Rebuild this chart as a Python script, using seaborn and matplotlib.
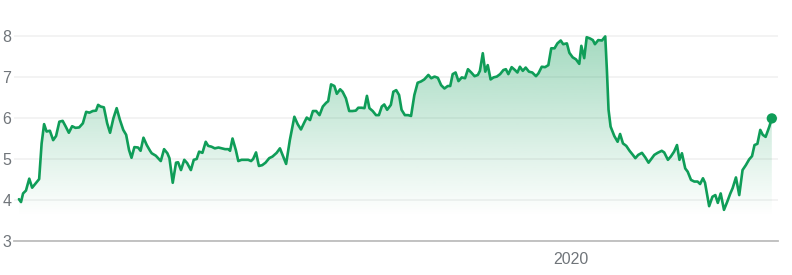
import numpy as np
import pandas as pd
import matplotlib
matplotlib.use("Agg")
import matplotlib.pyplot as plt
import matplotlib.dates as mdates
import seaborn as sns

# ---------------- data ----------------
START = "2016-05-03"
day_offsets = [
    0, 5, 10, 17, 25, 32, 41, 49, 55, 61, 67, 75, 83, 90, 98, 106, 113, 121, 129, 137,
    146, 155, 163, 171, 179, 187, 192, 198, 206, 214, 221, 229, 237, 245, 253, 260, 267, 273, 280, 289,
    295, 302, 310, 318, 322, 332, 344, 352, 360, 365, 373, 381, 386, 393, 401, 408, 417, 424, 431, 437,
    445, 453, 459, 467, 475, 484, 492, 500, 508, 512, 518, 526, 532, 540, 548, 556, 563, 568, 575, 582,
    590, 598, 607, 615, 625, 633, 641, 648, 657, 668, 676, 684, 692, 698, 706, 713, 721, 729, 737, 745,
    750, 757, 765, 771, 779, 785, 793, 801, 809, 817, 823, 831, 838, 844, 850, 858, 866, 873, 880, 886,
    893, 902, 908, 915, 922, 928, 936, 944, 951, 959, 967, 975, 983, 993, 1000, 1008, 1016, 1024, 1032, 1040,
    1046, 1052, 1059, 1066, 1074, 1082, 1089, 1097, 1105, 1113, 1118, 1125, 1131, 1137, 1144, 1151, 1159, 1167, 1175, 1181,
    1187, 1195, 1203, 1209, 1215, 1222, 1229, 1237, 1245, 1254, 1260, 1268, 1276, 1284, 1291, 1299, 1306, 1314, 1320, 1329,
    1335, 1343, 1351, 1359, 1364, 1371, 1377, 1385, 1392, 1397, 1405, 1414, 1422, 1426, 1430, 1435, 1444, 1452, 1458, 1465,
    1473, 1481, 1489, 1495, 1502, 1511, 1519, 1527, 1533, 1541, 1549, 1559, 1565, 1574, 1581, 1589, 1596, 1602, 1608, 1616,
    1622, 1630, 1638, 1646, 1652, 1659, 1664, 1674, 1682, 1689, 1695, 1702, 1710, 1718, 1725, 1731, 1739, 1747, 1755, 1763,
    1771, 1778, 1784, 1791, 1798, 1804, 1811, 1820, 1826,
]
prices = [
    4.02, 3.95, 4.16, 4.23, 4.52, 4.30, 4.41, 4.51, 5.38, 5.85, 5.67, 5.69, 5.46, 5.56, 5.91, 5.93, 5.80, 5.64, 5.80, 5.76,
    5.77, 5.87, 6.15, 6.13, 6.17, 6.18, 6.32, 6.28, 6.26, 5.87, 5.64, 5.99, 6.24, 5.95, 5.71, 5.59, 5.22, 5.03, 5.29, 5.28,
    5.20, 5.52, 5.34, 5.20, 5.14, 5.08, 4.95, 5.24, 5.14, 5.02, 4.42, 4.91, 4.92, 4.73, 4.98, 4.90, 4.73, 4.98, 5.00, 5.18,
    5.15, 5.42, 5.32, 5.30, 5.26, 5.28, 5.26, 5.24, 5.24, 5.20, 5.50, 5.22, 4.95, 4.98, 4.98, 4.98, 4.95, 5.00, 5.16, 4.83,
    4.85, 4.91, 5.02, 5.06, 5.15, 5.26, 5.06, 4.88, 5.46, 6.03, 5.85, 5.72, 5.89, 6.01, 5.95, 6.17, 6.17, 6.07, 6.28, 6.37,
    6.41, 6.82, 6.78, 6.59, 6.70, 6.64, 6.48, 6.17, 6.17, 6.18, 6.25, 6.25, 6.24, 6.54, 6.24, 6.17, 6.07, 6.07, 6.28, 6.33,
    6.20, 6.32, 6.64, 6.68, 6.56, 6.20, 6.07, 6.07, 6.05, 6.56, 6.86, 6.89, 6.94, 7.05, 6.97, 7.01, 6.98, 6.80, 6.72, 6.78,
    6.78, 7.07, 7.11, 6.90, 6.99, 6.97, 7.19, 7.11, 7.02, 7.05, 7.15, 7.58, 7.13, 7.29, 6.94, 6.99, 7.01, 7.07, 7.17, 7.19,
    7.07, 7.24, 7.17, 7.11, 7.25, 7.15, 7.23, 7.13, 7.11, 7.02, 7.09, 7.25, 7.24, 7.29, 7.70, 7.70, 7.82, 7.89, 7.80, 7.82,
    7.59, 7.48, 7.43, 7.32, 7.76, 7.46, 7.97, 7.94, 7.90, 7.80, 7.90, 7.89, 7.99, 7.17, 6.20, 5.79, 5.56, 5.42, 5.61, 5.38,
    5.32, 5.20, 5.10, 5.02, 5.10, 5.15, 5.04, 4.91, 4.99, 5.10, 5.15, 5.20, 5.16, 4.98, 5.06, 5.18, 5.34, 4.98, 5.14, 4.77,
    4.69, 4.49, 4.45, 4.45, 4.39, 4.53, 4.42, 3.85, 4.08, 4.12, 3.93, 4.16, 3.76, 3.96, 4.15, 4.29, 4.55, 4.12, 4.73, 4.85,
    4.99, 5.07, 5.34, 5.37, 5.71, 5.59, 5.54, 5.79, 5.99,
]
y_ticks = [3, 4, 5, 6, 7, 8]
x_tick_dates = ["2020-01-01"]
x_tick_labels = ["2020"]

GREEN = "#0f9d58"
LABEL_GRAY = "#70757a"

dates = pd.Timestamp(START) + pd.to_timedelta(day_offsets, unit="D")
df = pd.DataFrame({"date": dates, "price": prices})

sns.set_style("white")
plt.rcParams["font.family"] = ["Liberation Sans", "DejaVu Sans"]

fig = plt.figure(figsize=(7.92, 2.75), dpi=100)
ax = fig.add_axes([14 / 792, 34 / 275, 764 / 792, 225.5 / 275])

# gradient fill under the line
xn = mdates.date2num(df["date"])
poly = ax.fill_between(xn, df["price"], y_ticks[0], facecolor="none", edgecolor="none")
ylo, yhi = y_ticks[0], 8.5
vals = np.linspace(ylo, yhi, 300)
alpha = np.clip((vals - 3.6) / (8.0 - 3.6), 0, None) * 0.38
rgba = np.zeros((300, 1, 4))
rgba[..., 0] = 15 / 255
rgba[..., 1] = 157 / 255
rgba[..., 2] = 88 / 255
rgba[..., 3] = alpha[:, None]
im = ax.imshow(rgba, extent=[xn[0], xn[-1], ylo, yhi], origin="lower",
               aspect="auto", interpolation="bilinear", zorder=1)
im.set_clip_path(poly.get_paths()[0], transform=ax.transData)

sns.lineplot(data=df, x="date", y="price", color=GREEN, lw=1.9, ax=ax, zorder=3)
sns.scatterplot(data=df.tail(1), x="date", y="price", color=GREEN, s=55,
                edgecolor="none", ax=ax, zorder=4)

ax.set_xlim(pd.Timestamp(START) - pd.Timedelta(days=12), pd.Timestamp(START) + pd.Timedelta(days=1841))
ax.set_ylim(ylo, yhi)
ax.set_yticks(y_ticks)
ax.set_yticklabels([str(t) for t in y_ticks])
ax.set_xticks(mdates.date2num(pd.to_datetime(x_tick_dates)))
ax.set_xticklabels(x_tick_labels)
ax.set_xlabel("")
ax.set_ylabel("")

ax.grid(axis="y", color="#f1f1f1", lw=1.2, zorder=0)
ax.grid(axis="x", visible=False)
for s in ["top", "right", "left"]:
    ax.spines[s].set_visible(False)
ax.spines["bottom"].set_color("#bdbdbd")
ax.spines["bottom"].set_linewidth(1.3)

ax.tick_params(axis="y", length=0, pad=2, labelsize=11.5, labelcolor=LABEL_GRAY)
ax.tick_params(axis="x", length=5, width=1, color="#bdbdbd", pad=3,
               labelsize=11.5, labelcolor=LABEL_GRAY)

fig.savefig("out.png", dpi=100)
